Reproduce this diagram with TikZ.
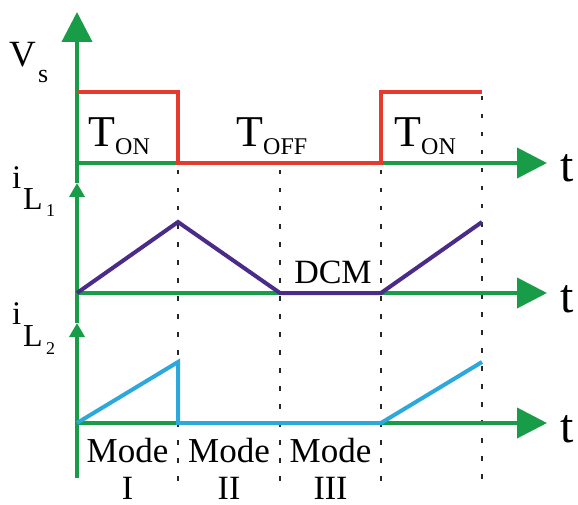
\documentclass[tikz,border=0pt]{standalone}
\usepackage{fontspec}
\setmainfont{Liberation Serif}
\usetikzlibrary{arrows.meta}
\definecolor{axgreen}{RGB}{24,156,72}
\definecolor{sigred}{RGB}{230,58,46}
\definecolor{sigpurple}{RGB}{74,43,138}
\definecolor{sigblue}{RGB}{44,168,220}
\tikzset{
  axis/.style={draw=axgreen, line width=4pt},
  bigtip/.style={-{Triangle[length=30pt,width=30pt]}},
  smalltip/.style={-{Triangle[length=14pt,width=15pt]}},
  sig/.style={line width=4pt, line join=miter},
  dotline/.style={draw=black!85, line width=2.4pt, dash pattern=on 4.5pt off 13.5pt},
  lbl/.style={inner sep=0pt, anchor=base west, font=\rmfamily},
  clbl/.style={inner sep=0pt, anchor=base, font=\rmfamily},
}
\newcommand{\fsz}[1]{\fontsize{#1}{#1}\selectfont}
\begin{document}
\begin{tikzpicture}[x=1pt,y=-1pt]
\useasboundingbox (0,0) rectangle (578,505);
% coordinates
\coordinate (ybot) at (77,478);
\coordinate (ya2) at (77,323);
\coordinate (ya1) at (77,183);
\coordinate (ytop) at (77,12);
\coordinate (o1) at (77,163); \coordinate (e1) at (547,163);
\coordinate (o2) at (77,293); \coordinate (e2) at (547,293);
\coordinate (o3) at (77,423); \coordinate (e3) at (547,423);
% dotted lines
\draw[dotline] (178,170) coordinate (d1a) -- (178,485) coordinate (d1b);
\draw[dotline] (280,170) coordinate (d2a) -- (280,485) coordinate (d2b);
\draw[dotline] (381,170) coordinate (d3a) -- (381,485) coordinate (d3b);
\draw[dotline] (482,96) coordinate (d4a) -- (482,485) coordinate (d4b);
% axes
\draw[axis, smalltip] (ybot) -- (ya2);
\draw[axis, smalltip] (ya2) -- (ya1);
\draw[axis, bigtip] (ya1) -- (ytop);
\draw[axis, bigtip] (o1) -- (e1);
\draw[axis, bigtip] (o2) -- (e2);
\draw[axis, bigtip] (o3) -- (e3);
% signals
\draw[sig, sigred] (77,92) -- (178,92) -- (178,163) -- (381,163) -- (381,92) -- (482,92);
\draw[sig, sigpurple] (o2) -- (178,222) -- (280,293) -- (381,293) -- (482,222);
\draw[sig, sigblue] (o3) -- (178,362) -- (178,423) -- (381,423) -- (482,362);
% labels
\node[lbl] (vs) at (9,67) {\fsz{37}V};
\node[lbl] (vss) at (38,83) {\fsz{26}s};
\node[lbl] (il1) at (12,189) {\fsz{33}i};
\node[lbl] (il1L) at (23,209) {\fsz{32}L};
\node[lbl] (il1n) at (46,217) {\fsz{18}1};
\node[lbl] (il2) at (12,324) {\fsz{33}i};
\node[lbl] (il2L) at (23,346) {\fsz{32}L};
\node[lbl] (il2n) at (46,354) {\fsz{18}2};
\node[lbl] (ton1) at (88,147) {\fsz{44}T};
\node[lbl] (ton1s) at (115,155) {\fsz{24}ON};
\node[lbl] (toff) at (236,147) {\fsz{44}T};
\node[lbl] (toffs) at (263,155) {\fsz{24}OFF};
\node[lbl] (ton2) at (394,147) {\fsz{44}T};
\node[lbl] (ton2s) at (421,155) {\fsz{24}ON};
\node[lbl] (t1) at (560,182) {\fsz{48}t};
\node[lbl] (t2) at (560,312) {\fsz{48}t};
\node[lbl] (t3) at (560,442) {\fsz{48}t};
\node[clbl] (dcm) at (333,283) {\fsz{34}DCM};
\node[clbl] (m1) at (127.5,462) {\fsz{35}Mode};
\node[clbl] (m1n) at (127.5,499) {\fsz{34}I};
\node[clbl] (m2) at (229,462) {\fsz{35}Mode};
\node[clbl] (m2n) at (229,499) {\fsz{34}II};
\node[clbl] (m3) at (330.5,462) {\fsz{35}Mode};
\node[clbl] (m3n) at (330.5,499) {\fsz{34}III};
\end{tikzpicture}
\end{document}
